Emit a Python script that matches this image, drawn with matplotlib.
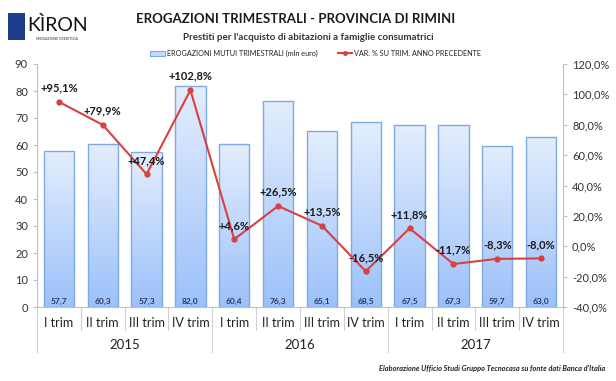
#!/usr/bin/env python3
"""Erogazioni trimestrali - Provincia di Rimini."""

import numpy as np
import matplotlib
matplotlib.use("Agg")
import matplotlib.pyplot as plt
from matplotlib.transforms import blended_transform_factory
from matplotlib.colors import LinearSegmentedColormap
from matplotlib.patches import Rectangle
from matplotlib.lines import Line2D

plt.rcParams["font.family"] = ["Lato", "DejaVu Sans"]

quarters = ["I trim", "II trim", "III trim", "IV trim"] * 3
years = ["2015", "2016", "2017"]
erogazioni = [57.7, 60.3, 57.3, 82.0, 60.4, 76.3, 65.1, 68.5, 67.5, 67.3, 59.7, 63.0]
var_pct = [95.1, 79.9, 47.4, 102.8, 4.6, 26.5, 13.5, -16.5, 11.8, -11.7, -8.3, -8.0]

W, H = 616, 381
fig = plt.figure(figsize=(W / 100, H / 100), dpi=100)
fig.patch.set_facecolor("white")

ax = fig.add_axes([37 / W, 1 - 307 / H, (563 - 37) / W, (307 - 64) / H])
x = np.arange(len(erogazioni))

bar_edge = "#7ea9e1"
grad = LinearSegmentedColormap.from_list("g", ["#9cc1fa", "#e3eefd"])
bars = ax.bar(x, erogazioni, width=0.69, facecolor="none", edgecolor=bar_edge, lw=1.0, zorder=3)
for r in bars:
    x0, w, h = r.get_x(), r.get_width(), r.get_height()
    im = ax.imshow(np.linspace(0, 1, 100).reshape(-1, 1), cmap=grad, origin="lower",
                   extent=(x0, x0 + w, 0, h), aspect="auto", zorder=2)
    im.set_clip_path(r)
    ax.text(x0 + w / 2, 2.2, f"{h:.1f}".replace(".", ","), ha="center", va="center",
            fontsize=6, fontweight="bold", color="#2a3a5a", zorder=4)

ax.set_xlim(-0.5, len(erogazioni) - 0.5)
ax.set_ylim(0, 90)
ax.set_yticks(range(0, 91, 10))
ax.set_xticks([])
ax.tick_params(axis="y", labelsize=8, length=3, color="#bfbfbf", colors="#333333")
for s in ["top", "right"]:
    ax.spines[s].set_visible(False)
ax.spines["left"].set_color("#bfbfbf")
ax.spines["bottom"].set_color("#bfbfbf")

# category axis
tr = blended_transform_factory(ax.transData, ax.transAxes)
for i, q in enumerate(quarters):
    ax.text(i, -0.065, q, transform=tr, ha="center", va="center", fontsize=9, color="#222222")
for k, yr in enumerate(years):
    ax.text(4 * k + 1.5, -0.155, yr, transform=tr, ha="center", va="center", fontsize=9.5, color="#222222")
for i in range(len(erogazioni) + 1):
    bottom = -0.185 if i % 4 == 0 else -0.095
    ax.add_line(Line2D([i - 0.5, i - 0.5], [0, bottom], transform=tr, color="#d0d0d0",
                       lw=0.8, clip_on=False))

ax2 = ax.twinx()
ax2.set_ylim(-40, 120)
ax2.set_yticks(range(-40, 121, 20))
ax2.set_yticklabels([f"{v:.1f}%".replace(".", ",") for v in range(-40, 121, 20)])
ax2.tick_params(axis="y", labelsize=8, length=3, color="#bfbfbf", colors="#333333")
for s in ["top", "left", "bottom"]:
    ax2.spines[s].set_visible(False)
ax2.spines["right"].set_color("#bfbfbf")

red = "#d9403f"
ax2.plot(x, var_pct, color=red, lw=1.5, marker="o", ms=3.5, zorder=5)
for xi, v in zip(x, var_pct):
    lab = f"{v:+.1f}%".replace(".", ",")
    ax2.annotate(lab, (xi, v), xytext=(0, 6), textcoords="offset points", ha="center",
                 va="bottom", fontsize=8, fontweight="bold", color="#1a1a1a", zorder=6)

# titles
fig.text(296 / W, 1 - 19 / H, "EROGAZIONI TRIMESTRALI - PROVINCIA DI RIMINI", ha="center",
         va="center", fontsize=9.5, fontweight="bold", color="#1a1a1a")
fig.text(308 / W, 1 - 37 / H, "Prestiti per l'acquisto di abitazioni a famiglie consumatrici",
         ha="center", va="center", fontsize=7, fontweight="bold", color="#333333")

# legend
fig.patches.append(Rectangle((150 / W, 1 - 56 / H), 15 / W, 5 / H, transform=fig.transFigure,
                             facecolor="#c5dbfb", edgecolor=bar_edge, lw=0.8))
fig.text(167 / W, 1 - 53 / H, "EROGAZIONI MUTUI TRIMESTRALI (mln euro)", ha="left", va="center",
         fontsize=5.2, color="#222222")
fig.add_artist(Line2D([338 / W, 352 / W], [1 - 53 / H] * 2, color=red, lw=1.5))
fig.add_artist(Line2D([345 / W], [1 - 53 / H], color=red, marker="o", ms=2.5))
fig.text(354 / W, 1 - 53 / H, "VAR. % SU TRIM. ANNO PRECEDENTE", ha="left", va="center",
         fontsize=5.2, color="#222222")

# logo
fig.patches.append(Rectangle((8 / W, 1 - 40 / H), 17 / W, 27 / H, transform=fig.transFigure,
                             facecolor="#1f3d8c", edgecolor="none"))
fig.text(27 / W, 1 - 25 / H, "KÌRON", ha="left", va="center", fontsize=14, color="#111111")
fig.text(36 / W, 1 - 39 / H, "MEDIAZIONE CREDITIZIA", ha="left", va="center", fontsize=2.5,
         color="#333333")

fig.text(605 / W, 1 - 368 / H,
         "Elaborazione Ufficio Studi Gruppo Tecnocasa su fonte dati Banca d'Italia",
         ha="right", va="center", fontsize=5.3, fontstyle="italic", fontweight="bold",
         color="#222222")

fig.savefig("out.png", dpi=100)
